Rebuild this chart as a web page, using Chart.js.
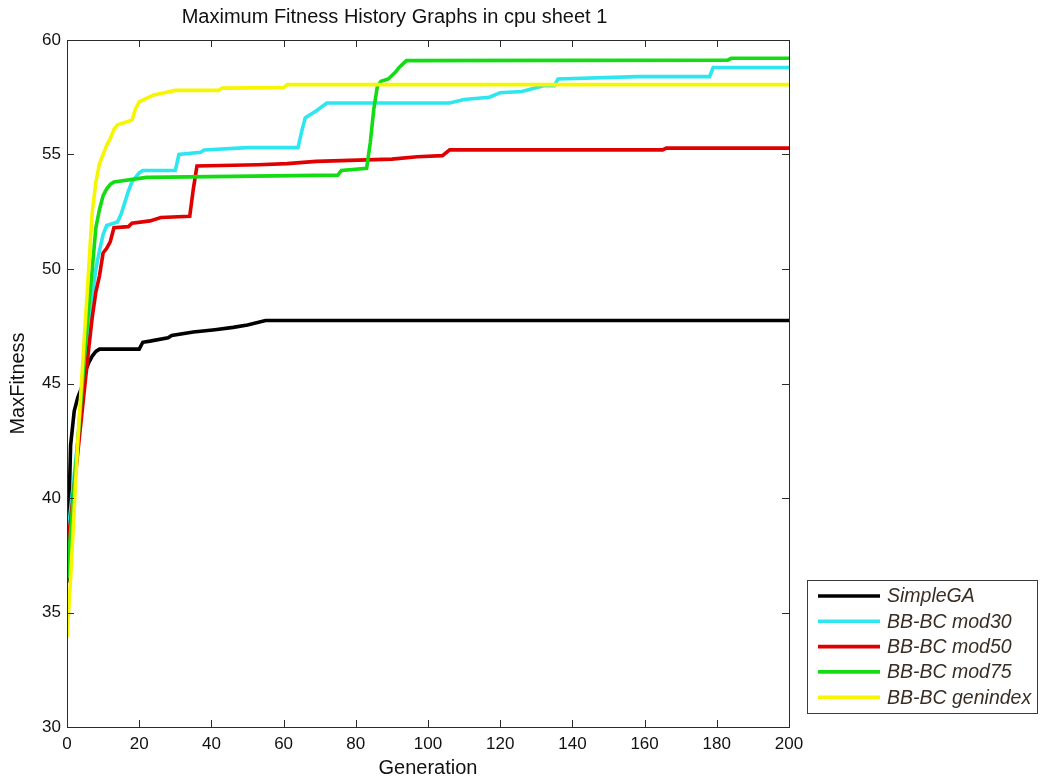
<!DOCTYPE html>
<html>
<head>
<meta charset="utf-8">
<script src="https://cdn.jsdelivr.net/npm/chart.js@4.4.0/dist/chart.umd.min.js"></script>
<style>
  html, body { margin: 0; padding: 0; background: #fff; }
  #wrap { width: 1040px; height: 782px; position: relative; }
</style>
</head>
<body>
<div id="wrap"><canvas id="myChart" width="1040" height="782"></canvas></div>
<script>
// series names + colours
const seriesNames = ['SimpleGA', 'BB-BC mod30', 'BB-BC mod50', 'BB-BC mod75', 'BB-BC genindex'];
const seriesColors = ['#000000', '#2ee6ef', '#e10000', '#14dc14', '#f6f600'];

// values (generation, max fitness)
const simpleGaGen = [0, 1, 2, 3, 4, 5, 6, 7, 8, 9, 20, 21, 23, 28, 29, 35, 41, 46, 50, 55, 200];
const simpleGaVal = [36.3, 42.3, 43.8, 44.4, 44.8, 45.5, 45.9, 46.2, 46.4, 46.5, 46.5, 46.8, 46.85, 47.0, 47.1, 47.25, 47.35, 47.45, 47.55, 47.75, 47.75];

const mod30Gen = [0, 1, 2, 3, 4, 5, 6, 7, 8, 9, 10, 11, 14, 15, 16, 17, 18, 19, 20, 21, 30, 31, 37, 38, 50, 64, 65, 66, 67, 69, 72, 106, 110, 117, 120, 126, 132, 135, 136, 158, 178, 179, 200];
const mod30Val = [38.0, 39.5, 41.0, 42.5, 44.2, 45.8, 47.3, 48.8, 50.0, 50.8, 51.5, 51.9, 52.05, 52.4, 52.9, 53.4, 53.8, 54.0, 54.2, 54.3, 54.3, 55.0, 55.1, 55.2, 55.3, 55.3, 56.0, 56.6, 56.7, 56.9, 57.25, 57.25, 57.4, 57.5, 57.7, 57.75, 58.0, 58.0, 58.3, 58.4, 58.4, 58.8, 58.8];

const mod50Gen = [0, 1, 2, 3, 4, 5, 6, 7, 8, 9, 10, 11, 12, 13, 17, 18, 23, 26, 34, 35, 36, 53, 61, 69, 90, 97, 104, 106, 165, 166, 200];
const mod50Val = [38.0, 39.0, 40.5, 42.0, 43.5, 45.0, 46.5, 47.9, 49.0, 49.7, 50.7, 50.9, 51.2, 51.8, 51.85, 52.0, 52.1, 52.25, 52.3, 53.5, 54.5, 54.55, 54.6, 54.7, 54.8, 54.9, 54.95, 55.2, 55.2, 55.28, 55.28];

const mod75Gen = [0, 1, 2, 3, 4, 5, 6, 7, 8, 9, 10, 11, 12, 13, 22, 75, 76, 83, 84, 85, 86, 87, 89, 91, 92, 94, 183, 184, 200];
const mod75Val = [36.5, 38.5, 40.5, 42.5, 44.5, 46.5, 48.3, 50.0, 51.8, 52.6, 53.2, 53.5, 53.7, 53.8, 54.0, 54.1, 54.3, 54.4, 55.5, 57.0, 58.0, 58.2, 58.3, 58.6, 58.8, 59.1, 59.12, 59.2, 59.2];

const genindexGen = [0, 1, 2, 3, 4, 5, 6, 7, 8, 9, 10, 11, 12, 13, 14, 18, 19, 20, 22, 24, 27, 30, 42, 43, 60, 61, 200];
const genindexVal = [33.9, 36.5, 39.5, 42.5, 45.0, 47.5, 50.0, 52.5, 53.8, 54.6, 55.0, 55.4, 55.7, 56.1, 56.3, 56.5, 57.0, 57.3, 57.45, 57.6, 57.7, 57.8, 57.8, 57.9, 57.92, 58.05, 58.05];

// axis ticks
const xTicks = [0, 20, 40, 60, 80, 100, 120, 140, 160, 180, 200];
const yTicks = [30, 35, 40, 45, 50, 55, 60];

const allGens = [simpleGaGen, mod30Gen, mod50Gen, mod75Gen, genindexGen];
const allVals = [simpleGaVal, mod30Val, mod50Val, mod75Val, genindexVal];

function toPoints(gens, vals) {
  return gens.map((g, i) => ({ x: g, y: vals[i] }));
}

const datasets = seriesNames.map((name, i) => ({
  label: name,
  data: toPoints(allGens[i], allVals[i]),
  borderColor: seriesColors[i],
  backgroundColor: seriesColors[i],
  borderWidth: 3.6,
  pointRadius: 0,
  tension: 0,
  fill: false,
  order: seriesNames.length - i
}));

const FONT = '"Liberation Sans", Arial, sans-serif';
const FRAME = '#2b2b2b';

// frame with inward ticks on all sides, matlab style
const framePlugin = {
  id: 'frame',
  afterDatasetsDraw(chart) {
    const { ctx, chartArea: a, scales } = chart;
    ctx.save();
    ctx.strokeStyle = FRAME;
    ctx.lineWidth = 1;
    ctx.strokeRect(a.left + 0.5, a.top + 0.5, a.right - a.left, a.bottom - a.top);
    ctx.beginPath();
    xTicks.forEach(t => {
      const px = Math.round(scales.x.getPixelForValue(t)) + 0.5;
      ctx.moveTo(px, a.bottom); ctx.lineTo(px, a.bottom - 7);
      ctx.moveTo(px, a.top); ctx.lineTo(px, a.top + 7);
    });
    yTicks.forEach(t => {
      const py = Math.round(scales.y.getPixelForValue(t)) + 0.5;
      ctx.moveTo(a.left, py); ctx.lineTo(a.left + 7, py);
      ctx.moveTo(a.right, py); ctx.lineTo(a.right - 7, py);
    });
    ctx.stroke();
    ctx.restore();
  }
};

// legend box at lower right, outside the axes
const legendPlugin = {
  id: 'boxLegend',
  afterDraw(chart) {
    const { ctx } = chart;
    const x0 = 807, y0 = 580, w = 230, h = 133;
    ctx.save();
    ctx.fillStyle = '#fff';
    ctx.fillRect(x0, y0, w, h);
    ctx.strokeStyle = '#3a3a3a';
    ctx.lineWidth = 1;
    ctx.strokeRect(x0 + 0.5, y0 + 0.5, w, h);
    ctx.font = 'italic 19.5px ' + FONT;
    ctx.textBaseline = 'middle';
    chart.data.datasets.forEach((ds, i) => {
      const y = y0 + 16 + i * 25.3;
      ctx.strokeStyle = ds.borderColor;
      ctx.lineWidth = 3.6;
      ctx.beginPath();
      ctx.moveTo(818, y); ctx.lineTo(880, y);
      ctx.stroke();
      ctx.fillStyle = '#3a2e24';
      ctx.fillText(ds.label, 887, y + 1);
    });
    ctx.restore();
  }
};

new Chart(document.getElementById('myChart'), {
  type: 'line',
  data: { datasets: datasets },
  options: {
    responsive: false,
    animation: false,
    layout: { padding: { left: 0, right: 251, top: 0, bottom: 0 } },
    plugins: {
      legend: { display: false },
      tooltip: { enabled: false },
      title: {
        display: true,
        text: 'Maximum Fitness History Graphs in cpu sheet 1',
        color: '#111',
        font: { family: FONT, size: 20, weight: 'normal' },
        padding: { top: 5, bottom: 11 }
      }
    },
    scales: {
      x: {
        type: 'linear',
        min: 0, max: 200,
        afterBuildTicks: s => { s.ticks = xTicks.map(v => ({ value: v })); },
        afterFit: s => { s.height = 55; },
        grid: { display: false, drawTicks: false },
        border: { display: false },
        ticks: { color: '#111', font: { family: FONT, size: 17 }, padding: 7, maxRotation: 0 },
        title: { display: true, text: 'Generation', color: '#111', font: { family: FONT, size: 20 }, padding: { top: 0, bottom: 2 } }
      },
      y: {
        min: 30, max: 60,
        afterBuildTicks: s => { s.ticks = yTicks.map(v => ({ value: v })); },
        afterFit: s => { s.width = 67; },
        grid: { display: false, drawTicks: false },
        border: { display: false },
        ticks: { color: '#111', font: { family: FONT, size: 17 }, padding: 6 },
        title: { display: true, text: 'MaxFitness', color: '#111', font: { family: FONT, size: 20 }, padding: { top: 6, bottom: 0 } }
      }
    }
  },
  plugins: [framePlugin, legendPlugin]
});
</script>
</body>
</html>
